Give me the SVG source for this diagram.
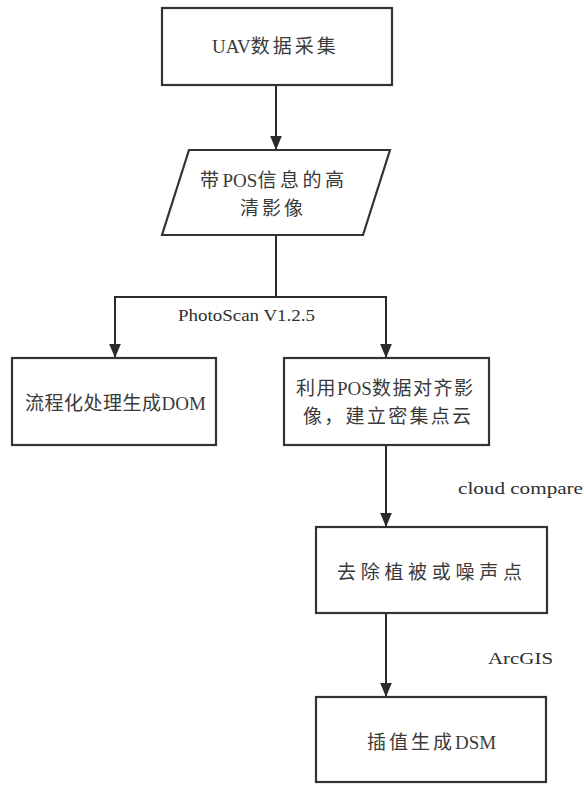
<svg xmlns="http://www.w3.org/2000/svg" width="584" height="785" viewBox="0 0 584 785">
  <defs>
    <marker id="arrowBig" viewBox="0 0 12 10" refX="12" refY="5" markerWidth="14" markerHeight="12" markerUnits="userSpaceOnUse" orient="auto">
      <path d="M0,0 L12,5 L0,10 z" fill="#2b2b2b"/>
    </marker>
  </defs>
  <style>
    .box { fill: #ffffff; stroke: #333333; stroke-width: 2.2; }
    .edge { fill: none; stroke: #2b2b2b; stroke-width: 2; }
    .t { font-family: "Liberation Serif", "Noto Sans CJK SC", serif; font-size: 19px; fill: #3a3a3a; }
    .lbl { font-family: "Liberation Serif", serif; font-size: 16px; fill: #2f2f2f; }
  </style>
  <rect width="584" height="785" fill="#ffffff"/>

  <g id="connectors">
    <line class="edge" x1="276" y1="85" x2="276" y2="150" marker-end="url(#arrowBig)"/>
    <polyline class="edge" points="276,235 276,297 115,297 115,358" marker-end="url(#arrowBig)"/>
    <polyline class="edge" points="276,297 386,297 386,358" marker-end="url(#arrowBig)"/>
    <line class="edge" x1="386" y1="445" x2="386" y2="527" marker-end="url(#arrowBig)"/>
    <line class="edge" x1="386" y1="613" x2="386" y2="697" marker-end="url(#arrowBig)"/>
    <text class="lbl" x="178" y="321" textLength="137" lengthAdjust="spacingAndGlyphs">PhotoScan V1.2.5</text>
    <text class="lbl" x="458" y="494" textLength="125" lengthAdjust="spacingAndGlyphs">cloud compare</text>
    <text class="lbl" x="488" y="664" textLength="65" lengthAdjust="spacingAndGlyphs">ArcGIS</text>
  </g>

  <g id="n-uav">
    <rect class="box" x="162" y="8" width="230" height="77"/>
    <text class="t" x="212" y="53">UAV<tspan letter-spacing="3">数据采集</tspan></text>
  </g>

  <g id="n-images">
    <polygon class="box" points="189,150 390,150 363,235 162,235"/>
    <text class="t" x="200" y="187"><tspan letter-spacing="3.5">带</tspan>POS<tspan letter-spacing="3.5">信息的高</tspan></text>
    <text class="t" x="240" y="215" letter-spacing="3">清影像</text>
  </g>

  <g id="n-dom">
    <rect class="box" x="12" y="358" width="204" height="87"/>
    <text class="t" x="25" y="410"><tspan letter-spacing="0.5">流程化处理生成</tspan>DOM</text>
  </g>

  <g id="n-cloud">
    <rect class="box" x="284" y="358" width="205" height="87"/>
    <text class="t" x="296" y="395"><tspan letter-spacing="1.5">利用</tspan>POS<tspan letter-spacing="1.5">数据对齐影</tspan></text>
    <text class="t" x="303" y="423" letter-spacing="2.3">像，建立密集点云</text>
  </g>

  <g id="n-filter">
    <rect class="box" x="316" y="527" width="231" height="86"/>
    <text class="t" x="337" y="579" letter-spacing="4.7">去除植被或噪声点</text>
  </g>

  <g id="n-dsm">
    <rect class="box" x="316" y="697" width="230" height="85"/>
    <text class="t" x="367" y="749"><tspan letter-spacing="3">插值生成</tspan>DSM</text>
  </g>
</svg>
